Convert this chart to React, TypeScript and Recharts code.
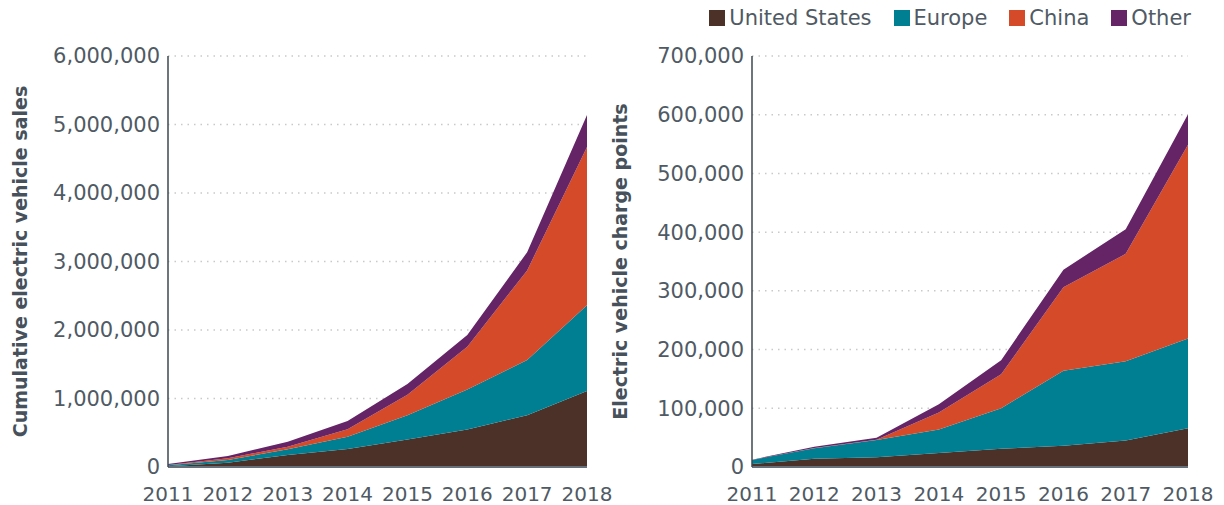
import React from "react"
import {
  AreaChart,
  Area,
  XAxis,
  YAxis,
  CartesianGrid,
  Legend,
} from "recharts"

const years = [2011, 2012, 2013, 2014, 2015, 2016, 2017, 2018]

// cumulative EV sales
const salesUS = [10000, 63000, 175000, 263000, 400000, 547000, 755000, 1108000]
const salesEurope = [15000, 39000, 83000, 180000, 355000, 583000, 808000, 1252000]
const salesChina = [5000, 25000, 38000, 107000, 300000, 626000, 1306000, 2310000]
const salesOther = [15000, 33000, 74000, 122000, 155000, 170000, 266000, 470000]

// EV charge points
const chargeUS = [5000, 14000, 16500, 24000, 31000, 36000, 45000, 66000]
const chargeEurope = [7000, 18000, 29500, 40000, 69000, 128000, 135000, 153000]
const chargeChina = [0, 500, 500, 29000, 58000, 142000, 183000, 330000]
const chargeOther = [500, 2000, 3500, 14000, 24000, 30000, 42000, 52000]

const salesTicks = [0, 1000000, 2000000, 3000000, 4000000, 5000000, 6000000]
const chargeTicks = [0, 100000, 200000, 300000, 400000, 500000, 600000, 700000]

const series = [
  { key: "us", name: "United States", color: "#4b3128" },
  { key: "europe", name: "Europe", color: "#007f93" },
  { key: "china", name: "China", color: "#d54a28" },
  { key: "other", name: "Other", color: "#642466" },
]

const salesData = years.map((year, i) => ({
  year,
  us: salesUS[i],
  europe: salesEurope[i],
  china: salesChina[i],
  other: salesOther[i],
}))

const chargeData = years.map((year, i) => ({
  year,
  us: chargeUS[i],
  europe: chargeEurope[i],
  china: chargeChina[i],
  other: chargeOther[i],
}))

const FONT = "'DejaVu Sans', sans-serif"
const TEXT = "#4f5a64"

const fmt = (v: number) => v.toLocaleString("en-US")

const AxisTitle = (props: any) => {
  const { viewBox, title } = props
  const cx = viewBox.x + 27
  const cy = viewBox.y + viewBox.height / 2
  return (
    <text
      x={cx}
      y={cy}
      transform={`rotate(-90 ${cx} ${cy})`}
      textAnchor="middle"
      fill="#46515b"
      fontFamily={FONT}
      fontWeight="bold"
      fontSize={19}
    >
      {title}
    </text>
  )
}

const renderLegend = () => (
  <div style={{ display: "flex", gap: 22, fontFamily: FONT, fontSize: 21, lineHeight: "24px", color: TEXT }}>
    {series.map((s) => (
      <div key={s.key} style={{ display: "flex", alignItems: "center", gap: 4 }}>
        <span style={{ display: "inline-block", width: 16, height: 16, background: s.color }} />
        <span>{s.name}</span>
      </div>
    ))}
  </div>
)

const renderAreas = () =>
  series.map((s) => (
    <Area
      key={s.key}
      type="linear"
      dataKey={s.key}
      name={s.name}
      stackId="a"
      stroke="none"
      fill={s.color}
      fillOpacity={1}
      isAnimationActive={false}
    />
  ))

const tickStyle = { fill: TEXT, fontSize: 21, fontFamily: FONT }
const xTickStyle = { fill: TEXT, fontSize: 20, fontFamily: FONT }

const App: React.FC = () => {
  return (
    <div style={{ position: "absolute", left: 0, top: 0, width: 1224, height: 505, background: "#fff" }}>
      <div style={{ position: "absolute", left: 0, top: 0 }}>
        <AreaChart width={620} height={505} data={salesData} margin={{ top: 56, right: 33, left: 0, bottom: 0 }}>
          <CartesianGrid vertical={false} stroke="#c9c9c9" strokeWidth={1.5} strokeDasharray="1.5 5" />
          {renderAreas()}
          <XAxis
            dataKey="year"
            height={38}
            interval={0}
            tickLine={false}
            tickMargin={14}
            tick={xTickStyle}
            axisLine={{ stroke: "#66707a", strokeWidth: 2 }}
          />
          <YAxis
            type="number"
            width={168}
            domain={[0, 6000000]}
            ticks={salesTicks}
            interval={0}
            tickFormatter={fmt}
            tickLine={false}
            tick={tickStyle}
            axisLine={{ stroke: "#3e4852", strokeWidth: 1.5 }}
            label={<AxisTitle title="Cumulative electric vehicle sales" />}
          />
        </AreaChart>
      </div>
      <div style={{ position: "absolute", left: 600, top: 0 }}>
        <AreaChart width={624} height={505} data={chargeData} margin={{ top: 56, right: 36, left: 0, bottom: 0 }}>
          <CartesianGrid vertical={false} stroke="#c9c9c9" strokeWidth={1.5} strokeDasharray="1.5 5" />
          {renderAreas()}
          <XAxis
            dataKey="year"
            height={38}
            interval={0}
            tickLine={false}
            tickMargin={14}
            tick={xTickStyle}
            axisLine={{ stroke: "#66707a", strokeWidth: 2 }}
          />
          <YAxis
            type="number"
            width={152}
            domain={[0, 700000]}
            ticks={chargeTicks}
            interval={0}
            tickFormatter={fmt}
            tickLine={false}
            tick={tickStyle}
            axisLine={{ stroke: "#3e4852", strokeWidth: 1.5 }}
            label={<AxisTitle title="Electric vehicle charge points" />}
          />
          <Legend
            layout="vertical"
            align="center"
            verticalAlign="middle"
            wrapperStyle={{ top: 6, right: 33, left: "auto", width: "auto", height: "auto" }}
            content={renderLegend}
          />
        </AreaChart>
      </div>
    </div>
  )
}

export default App
